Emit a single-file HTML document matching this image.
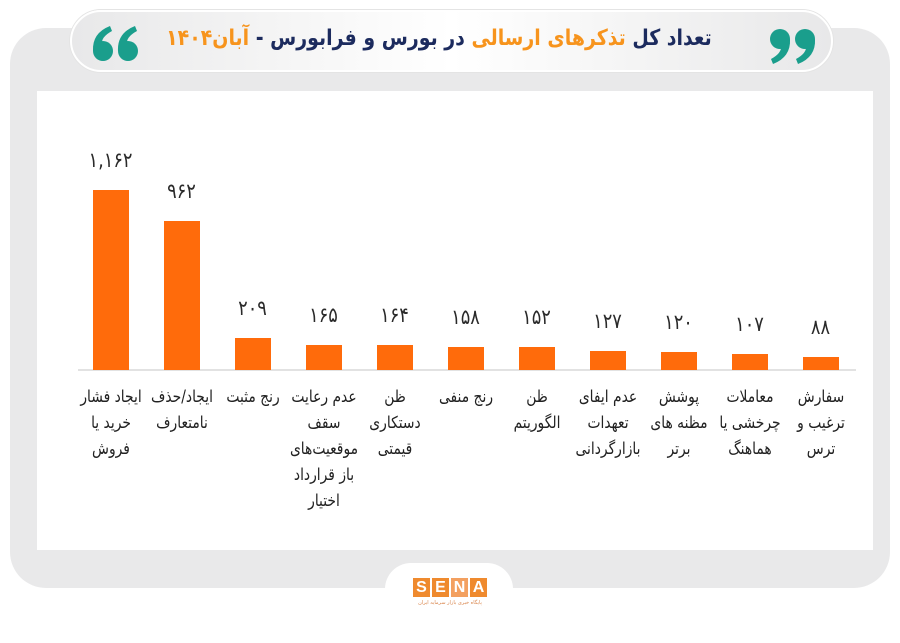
<!DOCTYPE html>
<html lang="fa">
<head>
<meta charset="utf-8">
<style>
  html,body{margin:0;padding:0;}
  body{width:900px;height:623px;position:relative;overflow:hidden;background:#ffffff;font-family:"DejaVu Sans","Liberation Sans",sans-serif;}
  .abs{position:absolute;}
  #frame{left:10px;top:28px;width:880px;height:560px;background:#e9e9ea;border-radius:36px;}
  #panel{left:37px;top:91px;width:836px;height:459px;background:#ffffff;}
  #pill{left:70px;top:10px;width:759px;height:58px;border-radius:31px;border:2px solid #ffffff;
        background:linear-gradient(90deg,#e8e8e9 0%,#f6f6f6 30%,#ffffff 50%,#f6f6f6 70%,#e8e8e9 100%);
        box-shadow:0 0 0 1px #e4e4e4;}
  #title{left:150px;top:22px;width:604px;height:34px;text-align:center;white-space:nowrap;direction:rtl;
         font-family:"DejaVu Sans",sans-serif;font-weight:bold;font-size:22px;line-height:34px;color:#1c2b5e;
         transform:scaleX(0.86);transform-origin:center center;}
  .or{color:#f7941d;}
  .bar{position:absolute;width:36px;background:#ff6b0b;}
  .val{position:absolute;width:71px;text-align:center;font-family:"DejaVu Sans",sans-serif;font-size:21px;line-height:24px;color:#2a2a2a;transform:scaleX(0.85);}
  .lab{position:absolute;width:90px;text-align:center;direction:rtl;font-family:"DejaVu Sans",sans-serif;font-size:16.5px;line-height:26px;color:#222222;white-space:nowrap;transform:scaleX(0.84);transform-origin:center top;}
  #base{left:78px;top:369px;width:778px;height:2px;background:#e2e2e2;}
  #tab{left:385px;top:563px;width:128px;height:80px;background:#ffffff;border-radius:26px;}
  .sb{position:absolute;top:578px;width:17px;height:19px;background:#ef8a2e;color:#fff;font-family:"Liberation Sans",sans-serif;font-weight:bold;font-size:16px;line-height:19px;text-align:center;}
  #sub{left:405px;top:599px;width:90px;text-align:center;font-size:5px;line-height:8px;color:#d9844a;direction:rtl;white-space:nowrap;}
</style>
</head>
<body>
<div id="frame" class="abs"></div>
<div id="panel" class="abs"></div>
<div id="pill" class="abs"></div>

<svg class="abs" style="left:0;top:0" width="900" height="80">
  <g fill="#1a9e8c">
    <circle cx="103" cy="51" r="10"/>
    <path d="M93,51 Q92,33 110,26 L112,31 Q101,37 102,44 Z"/>
    <circle cx="128" cy="51" r="10"/>
    <path d="M118,51 Q117,33 135,26 L137,31 Q126,37 127,44 Z"/>
    <circle cx="780" cy="39" r="10"/>
    <path d="M790,39 Q791,57 773,64 L771,59 Q782,53 781,46 Z"/>
    <circle cx="805" cy="39" r="10"/>
    <path d="M815,39 Q816,57 798,64 L796,59 Q807,53 806,46 Z"/>
  </g>
</svg>

<div id="title" class="abs">تعداد کل <span class="or">تذکرهای ارسالی</span> در بورس و فرابورس - <span class="or">آبان۱۴۰۴</span></div>

<div id="base" class="abs"></div>

<div class="bar" style="left:93px;top:190px;height:180px;"></div>
<div class="bar" style="left:164px;top:221px;height:149px;"></div>
<div class="bar" style="left:235px;top:338px;height:32px;"></div>
<div class="bar" style="left:306px;top:345px;height:25px;"></div>
<div class="bar" style="left:377px;top:345px;height:25px;"></div>
<div class="bar" style="left:448px;top:347px;height:23px;"></div>
<div class="bar" style="left:519px;top:347px;height:23px;"></div>
<div class="bar" style="left:590px;top:351px;height:19px;"></div>
<div class="bar" style="left:661px;top:352px;height:18px;"></div>
<div class="bar" style="left:732px;top:354px;height:16px;"></div>
<div class="bar" style="left:803px;top:357px;height:13px;"></div>

<div class="val" style="left:75px;top:148px;">۱,۱۶۲</div>
<div class="val" style="left:146px;top:179px;">۹۶۲</div>
<div class="val" style="left:217px;top:296px;">۲۰۹</div>
<div class="val" style="left:288px;top:303px;">۱۶۵</div>
<div class="val" style="left:359px;top:303px;">۱۶۴</div>
<div class="val" style="left:430px;top:305px;">۱۵۸</div>
<div class="val" style="left:501px;top:305px;">۱۵۲</div>
<div class="val" style="left:572px;top:309px;">۱۲۷</div>
<div class="val" style="left:643px;top:310px;">۱۲۰</div>
<div class="val" style="left:714px;top:312px;">۱۰۷</div>
<div class="val" style="left:785px;top:315px;">۸۸</div>

<div class="lab" style="left:66px;top:384px;">ایجاد فشار<br>خرید یا<br>فروش</div>
<div class="lab" style="left:137px;top:384px;">ایجاد/حذف<br>نامتعارف</div>
<div class="lab" style="left:208px;top:384px;">رنج مثبت</div>
<div class="lab" style="left:279px;top:384px;">عدم رعایت<br>سقف<br>موقعیت‌های<br>باز قرارداد<br>اختیار</div>
<div class="lab" style="left:350px;top:384px;">ظن<br>دستکاری<br>قیمتی</div>
<div class="lab" style="left:421px;top:384px;">رنج منفی</div>
<div class="lab" style="left:492px;top:384px;">ظن<br>الگوریتم</div>
<div class="lab" style="left:563px;top:384px;">عدم ایفای<br>تعهدات<br>بازارگردانی</div>
<div class="lab" style="left:634px;top:384px;">پوشش<br>مظنه های<br>برتر</div>
<div class="lab" style="left:705px;top:384px;">معاملات<br>چرخشی یا<br>هماهنگ</div>
<div class="lab" style="left:776px;top:384px;">سفارش<br>ترغیب و<br>ترس</div>

<div id="tab" class="abs"></div>
<div class="sb" style="left:413px;">S</div>
<div class="sb" style="left:432px;">E</div>
<div class="sb" style="left:451px;background:#f3a060;">N</div>
<div class="sb" style="left:470px;">A</div>
<div id="sub" class="abs">پایگاه خبری بازار سرمایه ایران</div>
</body>
</html>
